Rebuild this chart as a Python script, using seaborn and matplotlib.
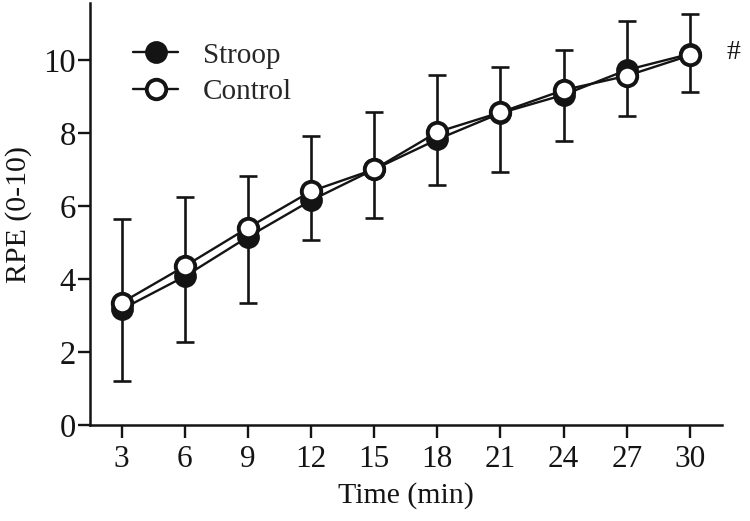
import matplotlib
matplotlib.use("Agg")
import matplotlib.pyplot as plt
import seaborn as sns
import pandas as pd
import numpy as np

time_min = [3, 6, 9, 12, 15, 18, 21, 24, 27, 30]
stroop_mean = [3.17, 4.07, 5.15, 6.15, 7.00, 7.82, 8.54, 9.04, 9.72, 10.16]
control_mean = [3.35, 4.35, 5.40, 6.40, 7.00, 8.02, 8.56, 9.17, 9.56, 10.12]
control_sd = [2.30, 1.89, 1.43, 1.50, 1.57, 1.55, 1.23, 1.09, 1.51, 1.13]
stroop_sd = [1.96, 1.79, 1.82, 1.08, 1.34, 1.24, 1.60, 1.26, 1.25, 1.03]
x_ticks = [3, 6, 9, 12, 15, 18, 21, 24, 27, 30]
y_ticks = [0, 2, 4, 6, 8, 10]

sns.set_theme(style="ticks")
plt.rcParams['font.family'] = 'serif'
plt.rcParams['font.serif'] = ['Liberation Serif', 'DejaVu Serif']
plt.rcParams['font.size'] = 21

fig = plt.figure(figsize=(7.5, 5.21), dpi=100)
ax = fig.add_axes([0.12, 0.184, 0.842, 0.81])

df = pd.DataFrame({
    "Time": time_min * 2,
    "RPE": stroop_mean + control_mean,
    "Group": ["Stroop"] * len(time_min) + ["Control"] * len(time_min),
})

ink = '#141414'
# error bars: Stroop downward, Control upward
ax.errorbar(time_min, stroop_mean, yerr=[stroop_sd, np.zeros(len(stroop_sd))],
            fmt='none', ecolor=ink, elinewidth=1.9, capsize=6.5, capthick=1.9, zorder=1)
ax.errorbar(time_min, control_mean, yerr=[np.zeros(len(control_sd)), control_sd],
            fmt='none', ecolor=ink, elinewidth=1.9, capsize=6.5, capthick=1.9, zorder=1)

sns.lineplot(data=df[df.Group == "Stroop"], x="Time", y="RPE", ax=ax, color=ink,
             marker='o', markersize=14, markerfacecolor=ink, markeredgecolor=ink,
             markeredgewidth=2.4, linewidth=1.7, label="Stroop", zorder=3)
sns.lineplot(data=df[df.Group == "Control"], x="Time", y="RPE", ax=ax, color=ink,
             marker='o', markersize=14, markerfacecolor='white', markeredgecolor=ink,
             markeredgewidth=2.8, linewidth=1.7, label="Control", zorder=4)

ax.set_xlim(1.5, 31.5)
ax.set_ylim(0, 11.55)
ax.set_xticks(x_ticks)
ax.set_yticks(y_ticks)
ax.set_xticklabels([str(t) for t in x_ticks], fontsize=22.5)
ax.set_yticklabels([str(t) for t in y_ticks], fontsize=23.5)
ax.tick_params(axis='both', direction='out', length=9, width=1.7, colors=ink)
ax.tick_params(axis='x', pad=5)
ax.tick_params(axis='y', pad=1)
for s in ['left', 'bottom']:
    ax.spines[s].set_linewidth(1.8)
    ax.spines[s].set_color(ink)
for s in ['top', 'right']:
    ax.spines[s].set_visible(False)

ax.set_xlabel("Time (min)", fontsize=21.5, labelpad=6, color=ink)
ax.set_ylabel("RPE (0-10)", fontsize=21.5, labelpad=8, color=ink)

leg = ax.legend(loc='upper left', bbox_to_anchor=(0.05, 0.935), frameon=False, fontsize=21,
                handlelength=1.55, handletextpad=0.85, labelspacing=0.35, borderaxespad=0)

ax.text(31.75, 10.2, "#", fontsize=20, ha='left', va='center', clip_on=False, color=ink)

fig.savefig("out.png", dpi=100)
